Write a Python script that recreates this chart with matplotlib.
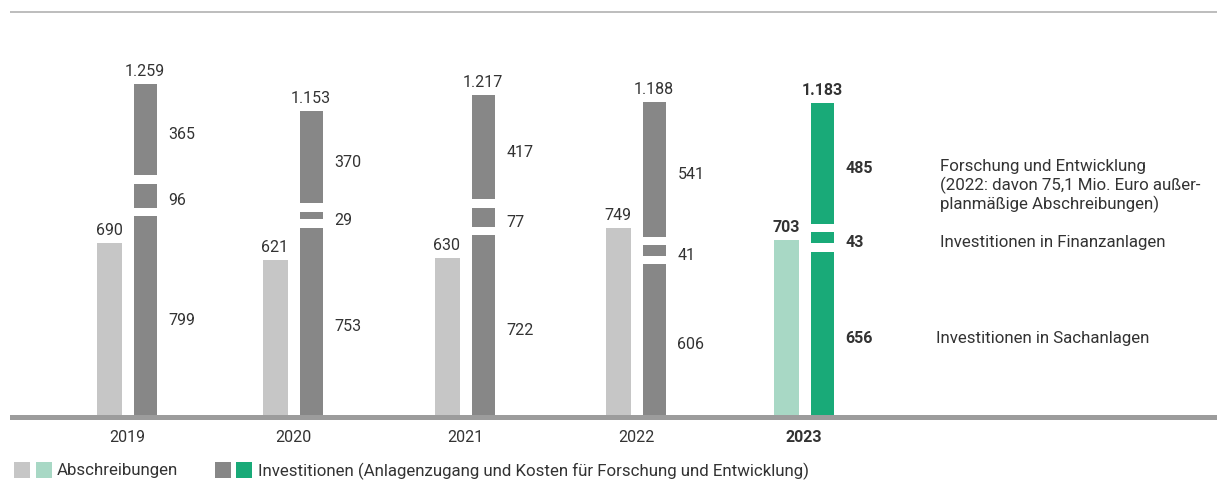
import matplotlib.pyplot as plt
from matplotlib.patches import Rectangle

# Data (Mio. Euro)
years = ['2019', '2020', '2021', '2022', '2023']
abschreibungen = [690, 621, 630, 749, 703]
sachanlagen = [799, 753, 722, 606, 656]
finanzanlagen = [96, 29, 77, 41, 43]
forschung = [365, 370, 417, 541, 485]
totals = [1259, 1153, 1217, 1188, 1183]

side_labels = ['Forschung und Entwicklung\n(2022: davon 75,1 Mio. Euro außer-\nplanmäßige Abschreibungen)',
               'Investitionen in Finanzanlagen',
               'Investitionen in Sachanlagen']
legend_labels = ['Abschreibungen',
                 'Investitionen (Anlagenzugang und Kosten für Forschung und Entwicklung)']

# Colours
grey_light = '#c6c6c6'
grey_dark = '#878787'
green_light = '#a8d8c5'
green_dark = '#19aa78'
text_col = '#333333'

plt.rcParams['font.family'] = ['Roboto', 'DejaVu Sans']

W, H = 1217, 481
BASE = 416          # baseline, pixels from top
PX = 0.249          # pixels per Mio. Euro
GAP = 8.5 / PX      # white gap between stacked segments


def py(p):
    # pixel row (from top) -> data y
    return (BASE - p) / PX


fig = plt.figure(figsize=(W / 100, H / 100), dpi=100)
ax = fig.add_axes([0, 0, 1, 1])
ax.set_xlim(0, W)
ax.set_ylim(py(H), py(0))
ax.axis('off')

# top rule and baseline
ax.plot([10, W], [py(13), py(13)], color='#bdbdbd', lw=1.4, solid_capstyle='butt')
ax.add_patch(Rectangle((10, py(421)), W - 10, py(416) - py(421), color='#9c9c9c', lw=0))

group_x = [127, 293, 465, 636, 804]
w_light, w_dark = 25, 23

for i, yr in enumerate(years):
    last = i == len(years) - 1
    c_l = green_light if last else grey_light
    c_d = green_dark if last else grey_dark
    weight = 'bold' if last else 'normal'
    xl = group_x[i] - 18
    xd = group_x[i] + 18

    ax.bar(xl, abschreibungen[i], width=w_light, color=c_l, lw=0)
    ax.annotate(str(abschreibungen[i]), (xl, abschreibungen[i]), xytext=(0, 6),
                textcoords='offset pixels', ha='center', va='bottom',
                fontsize=11.5, color=text_col, fontweight=weight)

    b1 = sachanlagen[i] + GAP
    b2 = b1 + finanzanlagen[i] + GAP
    top = b2 + forschung[i]
    segs = [(0, sachanlagen[i]), (b1, finanzanlagen[i]), (b2, forschung[i])]
    for bottom, h in segs:
        ax.bar(xd, h, bottom=bottom, width=w_dark, color=c_d, lw=0)
        ax.annotate(str(h), (xd + w_dark / 2, bottom + h / 2), xytext=(12, -4),
                    textcoords='offset pixels', ha='left', va='center',
                    fontsize=11.5, color=text_col, fontweight=weight)

    ax.annotate(f'{totals[i]:,}'.replace(',', '.'), (xd, top), xytext=(0, 6),
                textcoords='offset pixels', ha='center', va='bottom',
                fontsize=11.5, color=text_col, fontweight=weight)

    ax.text(group_x[i], py(438), yr, ha='center', va='center', fontsize=11.5,
            color=text_col, fontweight=weight)

    if last:
        # descriptions next to the 2023 values
        mids = [b2 + forschung[i] / 2, b1 + finanzanlagen[i] / 2, sachanlagen[i] / 2]
        ax.text(940, mids[0] + 6 / PX, side_labels[0], ha='left', va='top',
                fontsize=12.2, color=text_col, linespacing=1.2)
        ax.text(940, mids[1] - 4 / PX, side_labels[1], ha='left', va='center',
                fontsize=12.2, color=text_col)
        ax.text(936, mids[2] - 4 / PX, side_labels[2], ha='left', va='center',
                fontsize=12.2, color=text_col)

# legend
sq = 16
for x0, col in [(14, grey_light), (36, green_light), (215, grey_dark), (236, green_dark)]:
    ax.add_patch(Rectangle((x0, py(479)), sq, py(463) - py(479), color=col, lw=0))
ax.text(57, py(471), legend_labels[0], ha='left', va='center', fontsize=12.2, color=text_col)
ax.text(258, py(471), legend_labels[1], ha='left', va='center', fontsize=12.2, color=text_col)

fig.savefig('out.png', dpi=100)
